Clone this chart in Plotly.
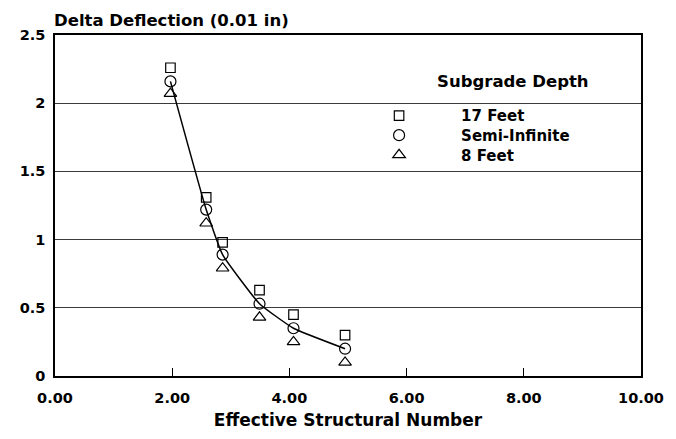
import plotly.graph_objects as go

sn = [1.97, 2.58, 2.86, 3.49, 4.07, 4.95]
semi_inf = [2.16, 1.22, 0.89, 0.53, 0.35, 0.20]
feet17 = [2.26, 1.31, 0.98, 0.63, 0.45, 0.30]
feet8 = [2.07, 1.12, 0.79, 0.43, 0.25, 0.10]

x_ticks = [0, 2, 4, 6, 8, 10]
x_labels = ["0.00", "2.00", "4.00", "6.00", "8.00", "10.00"]
y_ticks = [0, 0.5, 1, 1.5, 2, 2.5]
y_labels = ["0", "0.5", "1", "1.5", "2", "2.5"]

FONT = "DejaVu Sans"

# page body has an 8px margin; compensate so the plot area lands at x 52..642, y 35..383
W, H = 668, 431
L, R, T, B = 44, 34, 27, 56
PW, PH = W - L - R, H - T - B
OX, OY = 8 + L, 8 + T


def px_x(px):
    return (px - OX) / PW


def px_y(py):
    return 1 - (py - OY) / PH


def mk(symbol, size):
    return dict(symbol=symbol, color="black", size=size, line=dict(color="black", width=1.2))


fig = go.Figure()
fig.add_trace(go.Scatter(x=sn, y=semi_inf, mode="lines",
                         line=dict(color="black", width=1.5, shape="spline", smoothing=0.4),
                         showlegend=False, hoverinfo="skip"))
fig.add_trace(go.Scatter(x=sn, y=feet17, mode="markers", name="17 Feet", legend="legend",
                         marker=mk("square-open", 9.5)))
fig.add_trace(go.Scatter(x=sn, y=semi_inf, mode="markers", name="Semi-Infinite", legend="legend2",
                         marker=mk("circle-open", 11)))
fig.add_trace(go.Scatter(x=sn, y=feet8, mode="markers", name="8 Feet", legend="legend3",
                         marker=mk("triangle-up-open", 11)))

leg_font = dict(family=FONT, size=15, color="black", weight="bold")


def leg(ypx):
    return dict(x=px_x(336), y=px_y(ypx), xanchor="left", yanchor="middle",
                bgcolor="rgba(0,0,0,0)", itemwidth=114, font=leg_font)


fig.update_layout(
    width=W, height=H,
    margin=dict(l=L, r=R, t=T, b=B),
    paper_bgcolor="white", plot_bgcolor="white",
    font=dict(family=FONT, color="black", size=15),
    showlegend=True,
    legend=leg(117.5), legend2=leg(137.5), legend3=leg(157.5),
    xaxis=dict(range=[0, 10], tickvals=x_ticks, ticktext=x_labels,
               showgrid=False, zeroline=False, showline=True, linecolor="black", linewidth=1.5,
               mirror=True, ticks="inside", ticklen=8, tickcolor="black", ticklabelstandoff=8,
               tickfont=dict(family=FONT, size=14.5, color="black", weight="bold"),
               title=dict(text="Effective Structural Number", standoff=9,
                          font=dict(family=FONT, size=17, color="black", weight="bold"))),
    yaxis=dict(range=[0, 2.5], tickvals=y_ticks, ticktext=y_labels,
               showgrid=True, gridcolor="#3a3a3a", gridwidth=1, zeroline=False,
               showline=True, linecolor="black", linewidth=1.5, mirror=True, ticks="",
               ticklabelstandoff=5,
               tickfont=dict(family=FONT, size=14.5, color="black", weight="bold")),
    annotations=[
        dict(text="Delta Deflection (0.01 in)", xref="paper", yref="paper",
             x=px_x(49), y=px_y(20), xanchor="left", yanchor="middle", showarrow=False,
             font=dict(family=FONT, size=16.5, color="black", weight="bold")),
        dict(text="Subgrade Depth", xref="paper", yref="paper",
             x=px_x(513), y=px_y(82), xanchor="center", yanchor="middle", showarrow=False,
             font=dict(family=FONT, size=16.5, color="black", weight="bold")),
    ],
)

fig.write_html("out.html")
